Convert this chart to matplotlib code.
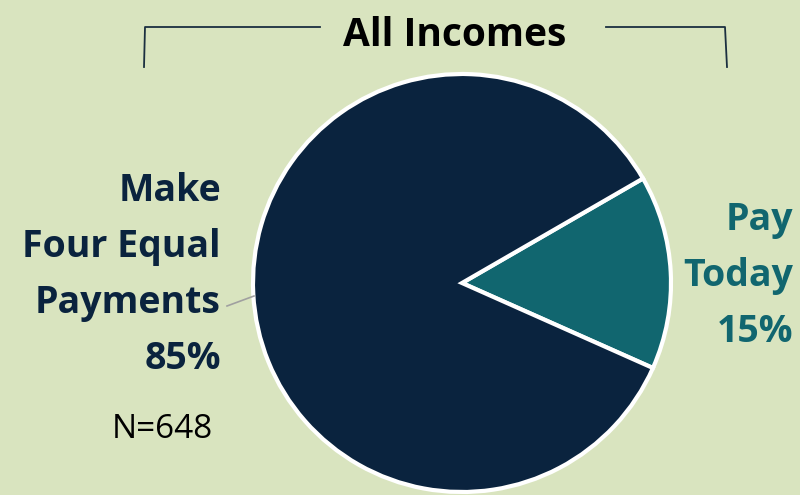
# Pie chart: payment preference across all incomes

import matplotlib.pyplot as plt
from matplotlib import rcParams

rcParams['font.family'] = ['Open Sans', 'DejaVu Sans']

labels = ['Pay\nToday\n15%', 'Make\nFour Equal\nPayments\n85%']
shares = [15, 85]
colors = ['#11666f', '#0a233e']
title = 'All Incomes'
note = 'N=648'

bg = '#d9e4bf'
H = 495

fig = plt.figure(figsize=(8, 4.95), dpi=100, facecolor=bg)
ax = fig.add_axes([0, 0, 1, 1])
ax.set_facecolor(bg)
ax.set_xlim(0, 800)
ax.set_ylim(0, H)
ax.set_aspect('equal')
ax.axis('off')

ax.pie(shares, colors=colors, startangle=-24, counterclock=True,
       center=(462, H - 283), radius=209,
       wedgeprops=dict(edgecolor='white', linewidth=3))
ax.set_xlim(0, 800)
ax.set_ylim(0, H)

# title with bracket
ax.text(455, H - 35, title, ha='center', va='center', fontsize=28,
        fontweight='bold', color='black')
ax.plot([144, 145, 320], [H - 67, H - 27, H - 27], color='#1b2f40', lw=1.3)
ax.plot([606, 725, 727], [H - 27, H - 27, H - 67], color='#1b2f40', lw=1.3)

# labels
ax.text(221, H - 275, labels[1], ha='right', va='center', fontsize=27,
        fontweight='bold', color=colors[1], linespacing=1.62)
ax.text(793, H - 276, labels[0], ha='right', va='center', fontsize=27,
        fontweight='bold', color=colors[0], linespacing=1.62)
ax.plot([227, 254], [H - 306, H - 296], color='#a0a0a0', lw=1.2)

ax.text(162, H - 429, note, ha='center', va='center', fontsize=24,
        color='black')

plt.savefig('out.png', facecolor=bg)
